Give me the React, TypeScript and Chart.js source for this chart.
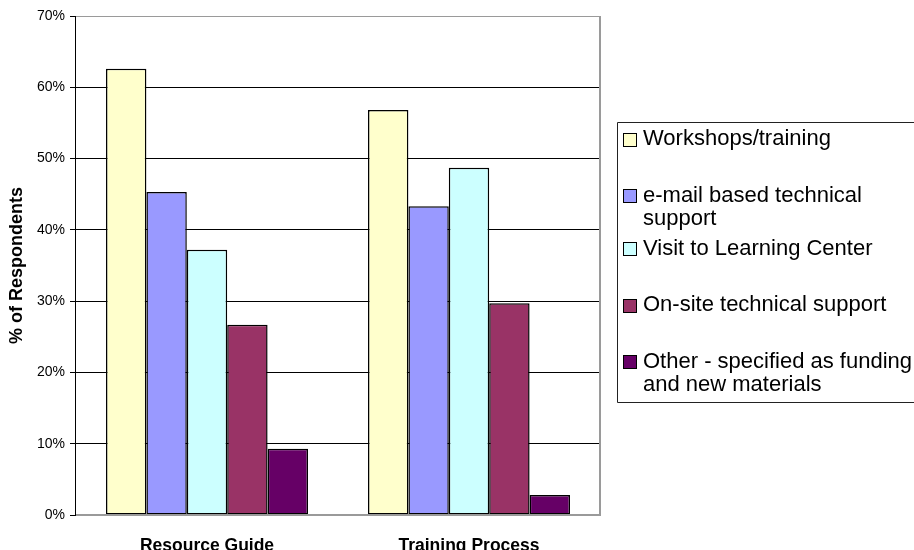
import React, { useEffect, useRef } from "react";
import { Chart, registerables } from "chart.js";

Chart.register(...registerables);

// Survey categories on the x axis
const categories = ["Resource Guide", "Training Process"];

// Legend text, split into the lines shown in the legend box
const workshopsLabel = ["Workshops/training"];
const emailLabel = ["e-mail based technical", "support"];
const visitLabel = ["Visit to Learning Center"];
const onsiteLabel = ["On-site technical support"];
const otherLabel = ["Other - specified as funding", "and new materials"];

// Percent of respondents per category
const workshops = [62.6, 56.8];
const email = [45.3, 43.3];
const visit = [37.2, 48.7];
const onsite = [26.7, 29.7];
const other = [9.3, 2.8];

// Y axis ticks (percent)
const yTicks = [0, 10, 20, 30, 40, 50, 60, 70];

const FONT = "'Liberation Sans', Arial, Helvetica, sans-serif";

const seriesList = [
  { lines: workshopsLabel, data: workshops, color: "#FFFFCC" },
  { lines: emailLabel, data: email, color: "#9999FF" },
  { lines: visitLabel, data: visit, color: "#CCFFFF" },
  { lines: onsiteLabel, data: onsite, color: "#993366" },
  { lines: otherLabel, data: other, color: "#660066" },
];

// Right and bottom frame of the plot area in grey, left axis in black
const framePlugin = {
  id: "plotFrame",
  afterDatasetsDraw(chart: any) {
    const { ctx, chartArea } = chart;
    ctx.save();
    ctx.strokeStyle = "#9a9a9a";
    ctx.lineWidth = 2;
    ctx.beginPath();
    ctx.moveTo(chartArea.right, chartArea.top);
    ctx.lineTo(chartArea.right, chartArea.bottom);
    ctx.lineTo(chartArea.left, chartArea.bottom);
    ctx.stroke();
    ctx.strokeStyle = "#000";
    ctx.lineWidth = 1;
    ctx.beginPath();
    ctx.moveTo(chartArea.left - 0.5, chartArea.top);
    ctx.lineTo(chartArea.left - 0.5, chartArea.bottom + 1);
    ctx.stroke();
    ctx.restore();
  },
};

// Boxed legend to the right of the plot, with wrapped entries
const boxLegendPlugin = {
  id: "boxLegend",
  afterDraw(chart: any) {
    const { ctx } = chart;
    const boxLeft = 617.5;
    const boxTop = 122.5;
    const boxBottom = 402.5;
    const lineH = 23;
    const sq = 13;
    const textX = 643;
    ctx.save();
    ctx.fillStyle = "#fff";
    ctx.fillRect(boxLeft, boxTop, 400, boxBottom - boxTop);
    ctx.strokeStyle = "#222";
    ctx.lineWidth = 1;
    ctx.beginPath();
    ctx.moveTo(boxLeft + 400, boxTop);
    ctx.lineTo(boxLeft, boxTop);
    ctx.lineTo(boxLeft, boxBottom);
    ctx.lineTo(boxLeft + 400, boxBottom);
    ctx.stroke();
    ctx.font = `22px ${FONT}`;
    ctx.textBaseline = "middle";
    ctx.textAlign = "left";
    let y = 139;
    chart.data.datasets.forEach((ds: any) => {
      const lines = ds.legendLines as string[];
      const top = Math.round(y - sq / 2) + 0.5;
      ctx.fillStyle = ds.backgroundColor;
      ctx.fillRect(623.5, top, sq, sq);
      ctx.strokeStyle = "#000";
      ctx.strokeRect(623.5, top, sq, sq);
      ctx.fillStyle = "#000";
      lines.forEach((line, j) => ctx.fillText(line, textX, y + j * lineH));
      y += lines.length > 1 ? 53 : 56.5;
    });
    ctx.restore();
  },
};

export default function App() {
  const canvasRef = useRef<HTMLCanvasElement>(null);

  useEffect(() => {
    if (!canvasRef.current) return;
    const chart = new Chart(canvasRef.current, {
      type: "bar",
      data: {
        labels: categories,
        datasets: seriesList.map((s) => ({
          label: s.lines.join(" "),
          legendLines: s.lines,
          data: s.data,
          backgroundColor: s.color,
          borderColor: "#000",
          borderWidth: 1.5,
          borderSkipped: false,
          categoryPercentage: 0.771,
          barPercentage: 1,
        })) as any,
      },
      options: {
        animation: false,
        responsive: false,
        maintainAspectRatio: false,
        layout: { padding: { left: 0, right: 314, top: 16, bottom: 0 } },
        plugins: {
          legend: { display: false },
          tooltip: { enabled: false },
        },
        scales: {
          x: {
            grid: { display: false, drawTicks: false },
            border: { display: false },
            ticks: {
              color: "#000",
              padding: 21,
              font: { family: FONT, size: 17.5, weight: "bold" },
            },
            afterFit(scale: any) {
              scale.height = 35;
            },
          },
          y: {
            min: 0,
            max: 70,
            afterBuildTicks(scale: any) {
              scale.ticks = yTicks.map((v) => ({ value: v }));
            },
            grid: {
              color: (c: any) => (c.tick && c.tick.value === 70 ? "#9a9a9a" : "#000"),
              lineWidth: 1,
              tickLength: 6,
              tickColor: "#000",
            },
            border: { display: false },
            ticks: {
              color: "#000",
              padding: 5,
              font: { family: FONT, size: 14 },
              callback: (v: any) => `${v}%`,
            },
            title: {
              display: true,
              text: "% of Respondents",
              color: "#000",
              padding: { top: 6, bottom: 0 },
              font: { family: FONT, size: 18, weight: "bold" },
            },
            afterFit(scale: any) {
              scale.width = 76;
            },
          },
        },
      },
      plugins: [framePlugin, boxLegendPlugin],
    });
    return () => chart.destroy();
  }, []);

  return (
    <div style={{ position: "fixed", left: 0, top: 0, width: 914, height: 550, background: "#fff" }}>
      <canvas ref={canvasRef} width={914} height={550} style={{ width: 914, height: 550 }} />
    </div>
  );
}
